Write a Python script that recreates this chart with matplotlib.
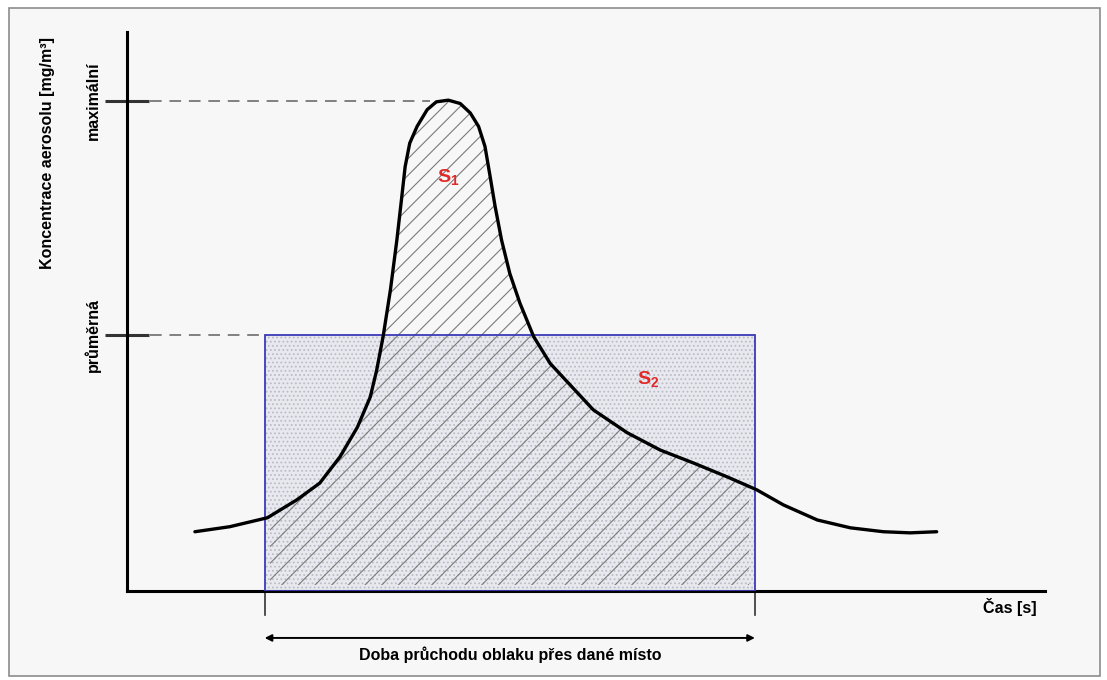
import matplotlib.pyplot as plt
from matplotlib.patches import Rectangle, Polygon

# time axis (arbitrary units, 0..100) and aerosol concentration (0..100)
time = [7.4, 11.2, 15.3, 18.5, 21.0, 23.2, 25.1, 26.5,
        27.2, 27.9, 28.7, 29.4, 29.9, 30.3, 30.8, 31.6, 32.7, 33.7,
        35.0, 36.3, 37.4, 38.3, 39.0, 39.5, 40.1, 40.8, 41.7, 42.8,
        44.3, 46.1, 50.8, 54.5, 58.1, 61.7, 65.4, 68.6, 71.5,
        75.2, 78.8, 82.4, 85.3, 88.2]
conc = [10.6, 11.5, 13.1, 16.3, 19.3, 24.0, 29.3, 34.7,
        39.5, 45.5, 53.9, 62.8, 70.0, 75.9, 80.1, 83.1, 86.1, 87.5,
        87.8, 87.2, 85.5, 83.1, 79.5, 74.7, 68.8, 62.8, 56.8, 51.5,
        45.5, 40.7, 32.4, 28.3, 25.2, 22.9, 20.4, 18.1, 15.4,
        12.7, 11.3, 10.6, 10.4, 10.6]

level_max = 87.7      # "maximální"
level_mean = 45.8     # "průměrná"
pass_start = 15.0     # cloud passage start
pass_end = 68.4       # cloud passage end
level_labels = ["maximální", "průměrná"]

FONT = "Liberation Sans"
plt.rcParams["font.family"] = [FONT, "DejaVu Sans"]
plt.rcParams["mathtext.fontset"] = "custom"
plt.rcParams["mathtext.bf"] = FONT + ":bold"
plt.rcParams["mathtext.rm"] = FONT
plt.rcParams["hatch.linewidth"] = 0.8

fig = plt.figure(figsize=(11.07, 6.8), dpi=100, facecolor="white")
fig.patches.append(Rectangle((9 / 1107, 4 / 680), 1091 / 1107, 668 / 680,
                             transform=fig.transFigure, facecolor="#f7f7f7",
                             edgecolor="#8c8c8c", linewidth=1.2, zorder=-5))

ax = fig.add_axes([0.1147, 0.1309, 0.8293, 0.8221])
ax.patch.set_visible(False)
ax.set_xlim(0, 100)
ax.set_ylim(0, 100)

# dotted rectangle S2 (mean concentration x passage time)
width = pass_end - pass_start
ax.add_patch(Rectangle((pass_start, 0), width, level_mean,
                       facecolor="#e8e8ef", edgecolor="#bcbcc8", hatch="....",
                       linewidth=0, zorder=1))

# hatched area under the curve, limited to the passage window
pts = list(zip(time, conc)) + [(time[-1], 0), (time[0], 0)]
area = Polygon(pts, closed=True, facecolor="none", edgecolor="#7a7a7a",
               hatch="//", linewidth=0, zorder=2)
ax.add_patch(area)
clip = Rectangle((pass_start + 0.6, 1), width - 1.2, 100,
                 transform=ax.transData)
area.set_clip_path(clip)

ax.add_patch(Rectangle((pass_start, 0), width, level_mean, facecolor="none",
                       edgecolor="#3a3ab8", linewidth=1.3, zorder=3))

ax.plot(time, conc, color="black", linewidth=2.4, zorder=4,
        solid_capstyle="round", solid_joinstyle="round")

# dashed guide lines
ax.plot([2.5, 33.0], [level_max, level_max], color="#808080", lw=1.4,
        dashes=(6, 4), zorder=3)
ax.plot([2.5, pass_start], [level_mean, level_mean], color="#808080",
        lw=1.4, dashes=(6, 4), zorder=3)

ax.text(35.0, 74.0, r"$\mathbf{S_1}$", color="#e02a2a", fontsize=14,
        ha="center", va="center", zorder=5)
ax.text(56.8, 38.0, r"$\mathbf{S_2}$", color="#e02a2a", fontsize=14,
        ha="center", va="center", zorder=5)

for side in ["top", "right"]:
    ax.spines[side].set_visible(False)
for side in ["left", "bottom"]:
    ax.spines[side].set_linewidth(2.2)
    ax.spines[side].set_color("black")

ax.set_xticks([])
ax.set_yticks([level_max, level_mean])
ax.set_yticklabels(level_labels, rotation=90, va="center", fontsize=11.5,
                   fontweight="bold")
ax.tick_params(axis="y", direction="inout", length=32, width=2.2,
               color="#333333", pad=3)

ax.text(-0.087, 0.784, "Koncentrace aerosolu [mg/m³]", transform=ax.transAxes,
        rotation=90, ha="center", va="center", fontsize=11.5,
        fontweight="bold")
ax.text(96.2, -2.9, "Čas [s]", ha="center", va="center", fontsize=11.5,
        fontweight="bold", clip_on=False)

# passage duration marker below the axis
for xv in [pass_start, pass_end]:
    ax.plot([xv, xv], [0, -4.3], color="#333333", lw=1.2, clip_on=False)
ax.annotate("", xy=(pass_end, -8.4), xytext=(pass_start, -8.4),
            xycoords="data", annotation_clip=False,
            arrowprops=dict(arrowstyle="<|-|>", color="black", lw=1.4,
                            mutation_scale=10, shrinkA=0, shrinkB=0))
ax.text((pass_start + pass_end) / 2, -11.4,
        "Doba průchodu oblaku přes dané místo", ha="center", va="center",
        fontsize=11.5, fontweight="bold", clip_on=False)

fig.savefig("out.png", dpi=100, facecolor=fig.get_facecolor())
